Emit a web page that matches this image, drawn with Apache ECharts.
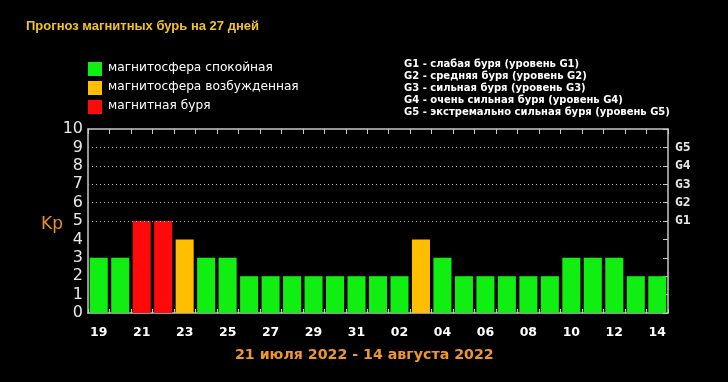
<!DOCTYPE html>
<html><head><meta charset="utf-8">
<script src="https://cdn.jsdelivr.net/npm/echarts@6/dist/echarts.min.js"></script>
<style>html,body{margin:0;padding:0;background:#000}#c{width:728px;height:382px}</style>
</head><body><div id="c"></div>
<script>
const days = ['19','20','21','22','23','24','25','26','27','28','29','30','31','01','02','03','04','05','06','07','08','09','10','11','12','13','14'];
const kp = [3,3,5,5,4,3,3,2,2,2,2,2,2,2,2,4,3,2,2,2,2,2,3,3,3,2,2];
const yTicks = ['0','1','2','3','4','5','6','7','8','9','10'];
const gLevels = {5:'G1',6:'G2',7:'G3',8:'G4',9:'G5'};
const legendItems = ['магнитосфера спокойная','магнитосфера возбужденная','магнитная буря'];
const gNotes = ['G1 - слабая буря (уровень G1)','G2 - средняя буря (уровень G2)','G3 - сильная буря (уровень G3)','G4 - очень сильная буря (уровень G4)','G5 - экстремально сильная буря (уровень G5)'];
const titleText = 'Прогноз магнитных бурь на 27 дней';
const rangeText = '21 июля 2022 - 14 августа 2022';

const GREEN='#11ee11', ORANGE='#ffbf00', RED='#ff0a0a';
const colorFor = v => v>=5?RED:(v>=4?ORANGE:GREEN);
const AX='#c8c8c8';

const chart = echarts.init(document.getElementById('c'));
const graphic = [];
const legColors=[GREEN,ORANGE,RED];
legendItems.forEach((t,i)=>{
  graphic.push({type:'rect',left:88,top:62+i*19,shape:{width:14,height:14},style:{fill:legColors[i]}});
  graphic.push({type:'text',left:108,top:62+i*19,style:{text:t,fill:'#fff',font:'12.2px "DejaVu Sans"'}});
});
gNotes.forEach((t,i)=>{
  graphic.push({type:'text',left:404,top:59+i*12.2,style:{text:t,fill:'#fff',font:'bold 10px "DejaVu Sans"'}});
});
graphic.push({type:'text',left:41,top:216,style:{text:'Kp',fill:'#e8902a',font:'17px "DejaVu Sans"'}});
graphic.push({type:'text',left:26,top:20,style:{text:titleText,fill:'#f2c22a',font:'bold 13px "Liberation Sans"'}});
graphic.push({type:'text',left:235,top:348,style:{text:rangeText,fill:'#f0962a',font:'bold 14.2px "DejaVu Sans"'}});

chart.setOption({
  backgroundColor:'#000',
  animation:false,
  grid:{left:88,right:60,top:129,bottom:69},
  graphic:graphic,
  xAxis:[{
    type:'category',data:days,position:'bottom',
    axisLine:{onZero:false,lineStyle:{color:AX,width:1.5}},
    axisTick:{show:true,inside:true,length:4,interval:0,lineStyle:{color:AX}},
    axisLabel:{interval:1,color:'#fff',fontFamily:'DejaVu Sans',fontWeight:'bold',fontSize:12.5,margin:13}
  },{
    type:'category',data:days,position:'top',
    axisLine:{onZero:false,lineStyle:{color:AX,width:1.5}},
    axisTick:{show:true,inside:true,length:5,interval:0,lineStyle:{color:AX}},
    axisLabel:{show:false}
  }],
  yAxis:[{
    type:'value',min:0,max:10,interval:1,position:'left',
    axisLine:{show:true,onZero:false,lineStyle:{color:AX,width:1.5}},
    axisTick:{show:false},
    splitLine:{show:false},
    axisLabel:{color:'#e8e8e8',fontFamily:'DejaVu Sans',fontSize:16,margin:5,formatter:v=>yTicks[v]}
  },{
    type:'value',min:0,max:10,interval:1,position:'right',
    axisLine:{show:true,onZero:false,lineStyle:{color:AX,width:1.5}},
    axisTick:{show:true,inside:true,length:5,lineStyle:{color:AX}},
    splitLine:{show:false},
    axisLabel:{color:'#e8e8e8',fontFamily:'DejaVu Sans Mono',fontWeight:'bold',fontSize:13,margin:7,formatter:v=>gLevels[v]||''}
  }],
  series:[{
    type:'bar',xAxisIndex:0,yAxisIndex:0,barCategoryGap:'16%',
    data:kp.map(v=>({value:v,itemStyle:{color:colorFor(v)}})),
    markLine:{silent:true,symbol:'none',label:{show:false},
      lineStyle:{color:'#bbb',type:[1,3],width:1},
      data:Object.keys(gLevels).map(k=>({yAxis:+k}))}
  }]
});
</script></body></html>
